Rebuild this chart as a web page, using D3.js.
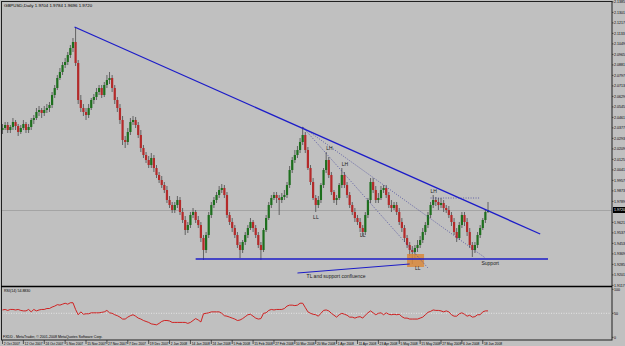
<!DOCTYPE html>
<html>
<head>
<meta charset="utf-8">
<script src="https://cdn.jsdelivr.net/npm/d3@7"></script>
<style>
body { margin: 0; background: #c0c0c0; }
svg { display: block; font-family: "Liberation Sans", "DejaVu Sans", sans-serif; }
</style>
</head>
<body>
<div id="viz"></div>
<script>
//==============================================================================
// Data: GBPUSD daily bars [open, high, low, close], one array per month
var oct07 = [
	[2.0360,2.0408,2.0328,2.0376],[2.0376,2.0424,2.0360,2.0400],[2.0400,2.0424,2.0336,2.0360],[2.0360,2.0400,2.0336,2.0384],
	[2.0384,2.0456,2.0360,2.0424],[2.0424,2.0440,2.0360,2.0392],[2.0392,2.0408,2.0312,2.0344],[2.0344,2.0400,2.0328,2.0376],
	[2.0376,2.0440,2.0360,2.0408],[2.0408,2.0424,2.0336,2.0360],[2.0360,2.0408,2.0336,2.0384],[2.0384,2.0456,2.0360,2.0440],
	[2.0440,2.0480,2.0408,2.0456],[2.0456,2.0536,2.0440,2.0504],[2.0504,2.0552,2.0472,2.0520],[2.0520,2.0536,2.0456,2.0496],
	[2.0496,2.0552,2.0472,2.0520],[2.0520,2.0568,2.0496,2.0536],[2.0536,2.0584,2.0504,2.0560],[2.0560,2.0664,2.0536,2.0640],
	[2.0640,2.0720,2.0616,2.0696],[2.0696,2.0800,2.0680,2.0776]
];
var nov07 = [
	[2.0776,2.0856,2.0760,2.0824],[2.0824,2.0904,2.0800,2.0880],[2.0880,2.0936,2.0856,2.0904],[2.0904,2.0984,2.0880,2.0960],
	[2.0960,2.1040,2.0936,2.1016],[2.1016,2.1096,2.0984,2.1064],[2.1064,2.1184,2.0872,2.0896],[2.0896,2.0920,2.0568,2.0600],
	[2.0600,2.0640,2.0504,2.0536],[2.0536,2.0568,2.0472,2.0504],[2.0504,2.0536,2.0440,2.0480],[2.0480,2.0568,2.0456,2.0536],
	[2.0536,2.0616,2.0520,2.0600],[2.0600,2.0648,2.0568,2.0624],[2.0624,2.0696,2.0600,2.0664],[2.0664,2.0720,2.0640,2.0696],
	[2.0696,2.0720,2.0616,2.0640],[2.0640,2.0744,2.0624,2.0720],[2.0720,2.0800,2.0696,2.0760],[2.0760,2.0824,2.0728,2.0776],
	[2.0776,2.0800,2.0664,2.0696],[2.0696,2.0720,2.0568,2.0600]
];
var dec07 = [
	[2.0600,2.0624,2.0504,2.0536],[2.0536,2.0568,2.0408,2.0440],[2.0440,2.0472,2.0240,2.0280],[2.0280,2.0312,2.0216,2.0264],
	[2.0264,2.0376,2.0240,2.0344],[2.0344,2.0456,2.0320,2.0424],[2.0424,2.0472,2.0400,2.0440],[2.0440,2.0464,2.0376,2.0400],
	[2.0400,2.0424,2.0296,2.0320],[2.0320,2.0360,2.0184,2.0216],[2.0216,2.0240,2.0136,2.0160],[2.0160,2.0184,2.0096,2.0120],
	[2.0120,2.0152,2.0056,2.0080],[2.0080,2.0176,2.0056,2.0136],[2.0136,2.0160,2.0024,2.0056],[2.0056,2.0080,1.9976,2.0000],
	[2.0000,2.0024,1.9936,1.9960],[1.9960,1.9992,1.9896,1.9920],[1.9920,1.9944,1.9856,1.9880],[1.9880,1.9912,1.9776,1.9800]
];
var jan08 = [
	[1.9800,1.9832,1.9736,1.9760],[1.9760,1.9784,1.9696,1.9720],[1.9720,1.9784,1.9696,1.9760],[1.9760,1.9832,1.9736,1.9800],
	[1.9800,1.9824,1.9680,1.9704],[1.9704,1.9736,1.9616,1.9640],[1.9640,1.9672,1.9520,1.9560],[1.9560,1.9624,1.9536,1.9600],
	[1.9600,1.9704,1.9576,1.9680],[1.9680,1.9736,1.9656,1.9704],[1.9704,1.9720,1.9616,1.9640],[1.9640,1.9672,1.9576,1.9600],
	[1.9600,1.9624,1.9464,1.9496],[1.9496,1.9520,1.9320,1.9400],[1.9400,1.9544,1.9376,1.9520],[1.9520,1.9704,1.9496,1.9680],
	[1.9680,1.9784,1.9656,1.9760],[1.9760,1.9824,1.9736,1.9800],[1.9800,1.9864,1.9776,1.9840],[1.9840,1.9912,1.9816,1.9880],
	[1.9880,1.9928,1.9856,1.9896],[1.9896,1.9920,1.9816,1.9840]
];
var feb08 = [
	[1.9840,1.9864,1.9656,1.9680],[1.9680,1.9704,1.9600,1.9624],[1.9624,1.9656,1.9544,1.9576],[1.9576,1.9600,1.9496,1.9520],
	[1.9520,1.9544,1.9416,1.9440],[1.9440,1.9464,1.9336,1.9400],[1.9400,1.9480,1.9376,1.9464],[1.9464,1.9544,1.9440,1.9520],
	[1.9520,1.9600,1.9496,1.9576],[1.9576,1.9656,1.9560,1.9624],[1.9624,1.9640,1.9544,1.9576],[1.9576,1.9600,1.9496,1.9520],
	[1.9520,1.9544,1.9416,1.9440],[1.9440,1.9464,1.9320,1.9400],[1.9400,1.9576,1.9384,1.9560],[1.9560,1.9680,1.9544,1.9656],
	[1.9656,1.9784,1.9640,1.9760],[1.9760,1.9840,1.9736,1.9816],[1.9816,1.9864,1.9800,1.9840],[1.9840,1.9864,1.9776,1.9816],
	[1.9816,1.9840,1.9680,1.9800]
];
var mar08 = [
	[1.9800,1.9856,1.9776,1.9824],[1.9824,1.9880,1.9800,1.9840],[1.9840,1.9944,1.9816,1.9920],[1.9920,2.0072,1.9896,2.0040],
	[2.0040,2.0144,2.0016,2.0120],[2.0120,2.0200,2.0096,2.0160],[2.0160,2.0232,2.0136,2.0200],[2.0200,2.0296,2.0176,2.0264],
	[2.0264,2.0384,2.0240,2.0320],[2.0320,2.0344,2.0176,2.0200],[2.0200,2.0224,2.0040,2.0056],[2.0056,2.0080,1.9920,1.9944],
	[1.9944,1.9976,1.9800,1.9816],[1.9816,1.9840,1.9704,1.9760],[1.9760,1.9832,1.9736,1.9800],[1.9800,1.9936,1.9776,1.9920],
	[1.9920,2.0056,1.9896,2.0040],[2.0040,2.0184,2.0016,2.0120],[2.0120,2.0144,1.9976,2.0000],[2.0000,2.0024,1.9840,1.9864],
	[1.9864,1.9880,1.9776,1.9800]
];
var apr08 = [
	[1.9800,1.9840,1.9760,1.9816],[1.9816,1.9936,1.9800,1.9920],[1.9920,2.0056,1.9896,2.0000],[2.0000,2.0024,1.9896,1.9920],
	[1.9920,1.9944,1.9816,1.9840],[1.9840,1.9864,1.9736,1.9760],[1.9760,1.9784,1.9680,1.9704],[1.9704,1.9736,1.9624,1.9656],
	[1.9656,1.9680,1.9600,1.9624],[1.9624,1.9656,1.9544,1.9576],[1.9576,1.9600,1.9512,1.9544],[1.9544,1.9704,1.9520,1.9680],
	[1.9680,1.9816,1.9656,1.9800],[1.9800,1.9976,1.9776,1.9944],[1.9944,1.9976,1.9856,1.9880],[1.9880,1.9912,1.9776,1.9800],
	[1.9800,1.9856,1.9776,1.9816],[1.9816,1.9912,1.9800,1.9880],[1.9880,1.9920,1.9856,1.9896],[1.9896,1.9920,1.9816,1.9840],
	[1.9840,1.9864,1.9736,1.9760],[1.9760,1.9800,1.9704,1.9736]
];
var may08 = [
	[1.9736,1.9784,1.9720,1.9760],[1.9760,1.9784,1.9680,1.9704],[1.9704,1.9736,1.9600,1.9624],[1.9624,1.9656,1.9544,1.9576],
	[1.9576,1.9600,1.9464,1.9496],[1.9496,1.9520,1.9416,1.9440],[1.9440,1.9464,1.9352,1.9400],[1.9400,1.9432,1.9288,1.9384],
	[1.9384,1.9440,1.9336,1.9416],[1.9416,1.9480,1.9384,1.9440],[1.9440,1.9512,1.9416,1.9480],[1.9480,1.9576,1.9456,1.9544],
	[1.9544,1.9624,1.9520,1.9600],[1.9600,1.9704,1.9576,1.9680],[1.9680,1.9784,1.9656,1.9760],[1.9760,1.9840,1.9736,1.9800],
	[1.9800,1.9824,1.9752,1.9784],[1.9784,1.9816,1.9720,1.9760],[1.9760,1.9816,1.9736,1.9776],[1.9776,1.9800,1.9704,1.9736],
	[1.9736,1.9760,1.9696,1.9720],[1.9720,1.9752,1.9656,1.9680]
];
var jun08 = [
	[1.9680,1.9704,1.9592,1.9624],[1.9624,1.9656,1.9520,1.9544],[1.9544,1.9576,1.9464,1.9496],[1.9496,1.9624,1.9480,1.9600],
	[1.9600,1.9704,1.9576,1.9680],[1.9680,1.9704,1.9592,1.9624],[1.9624,1.9656,1.9512,1.9544],[1.9544,1.9576,1.9416,1.9440],
	[1.9440,1.9464,1.9344,1.9400],[1.9400,1.9464,1.9376,1.9440],[1.9440,1.9544,1.9416,1.9520],[1.9520,1.9600,1.9496,1.9576],
	[1.9576,1.9656,1.9560,1.9640],[1.9640,1.9720,1.9616,1.9704],[1.9704,1.9784,1.9696,1.9720]
];

// RSI(14) readings, one array per month
var rsiOct07 = [57,58,56,58,58,57,58,56,55,55,58,53,58,55,57,58,58,60,60,63,65,68];
var rsiNov07 = [67,69,71,69,72,72,58,47,53,48,49,49,51,51,51,51,52,53,56,51,50,47];
var rsiDec07 = [45,42,38,38,42,45,47,44,40,38,35,33,31,28,27,26,29,33,35,35];
var rsiJan08 = [34,31,31,31,31,31,31,29,31,35,39,36,32,49,50,51,53,53,53,53,50,45];
var rsiFeb08 = [44,42,40,38,35,36,39,43,47,48,44,40,38,39,50,51,56,58,57,58,58];
var rsiMar08 = [58,60,65,67,67,66,67,71,71,62,53,50,48,47,44,50,56,57,55,50,46];
var rsiApr08 = [42,47,50,48,46,42,42,40,42,43,40,46,51,55,51,47,50,51,47,51,48,47];
var rsiMay08 = [48,47,48,43,40,40,38,38,38,38,40,42,47,52,54,57,56,56,55,53,55,53];
var rsiJun08 = [47,44,44,49,51,48,44,46,42,43,47,47,53,55,55];

// Date labels, one every 8 bars
var dateLabels = ["2 Oct 2007","12 Oct 2007","24 Oct 2007","5 Nov 2007","15 Nov 2007","27 Nov 2007",
	"7 Dec 2007","19 Dec 2007","2 Jan 2008","14 Jan 2008","24 Jan 2008","5 Feb 2008","15 Feb 2008",
	"27 Feb 2008","10 Mar 2008","20 Mar 2008","1 Apr 2008","11 Apr 2008","23 Apr 2008","5 May 2008",
	"15 May 2008","27 May 2008","6 Jun 2008","18 Jun 2008"];
var dateStep = 8;

// Price axis labels
var priceTicks = [2.1385,2.1301,2.1217,2.1133,2.1049,2.0965,2.0881,2.0797,2.0713,2.0629,2.0545,2.0461,
	2.0377,2.0293,2.0209,2.0125,2.0041,1.9957,1.9873,1.9789,1.9705,1.9621,1.9537,1.9453,1.9369,
	1.9285,1.9201,1.9117];
var rsiTicks = [100, 50, 0];

// Drawn objects: trendline, support, dotted channel lines
var trendline = [[27.6, 2.1184], [206, 1.9528]];
var supportLine = [[74, 1.9328], [209, 1.9328]];
var dottedLines = [
	[[115, 2.0384], [163, 1.9256]],
	[[115, 2.0384], [185, 1.9336]],
	[[164, 1.9816], [183, 1.9816]]
];
var pointerLine = [[113, 1.9216], [156, 1.9288]];
var confluenceBox = [[155, 1.9368], [161.5, 1.9264]];
var notes = [
	{t: "LH", bar: 124, p: 2.0200},
	{t: "LH", bar: 130, p: 2.0072},
	{t: "LL", bar: 119, p: 1.9648},
	{t: "LL", bar: 137, p: 1.9504},
	{t: "LL", bar: 158, p: 1.9240},
	{t: "LH", bar: 164, p: 1.9856},
	{t: "Support", bar: 183.5, p: 1.9282},
	{t: "TL and support confluence", bar: 116.5, p: 1.9180}
];

var bars = [].concat(oct07, nov07, dec07, jan08, feb08, mar08, apr08, may08, jun08);
var rsi = [].concat(rsiOct07, rsiNov07, rsiDec07, rsiJan08, rsiFeb08, rsiMar08, rsiApr08, rsiMay08, rsiJun08);
var last = bars[bars.length - 1];

//==============================================================================
// Layout
var width = 625, height = 346;
var plotRight = 612;
var mainBottom = 286, rsiTop = 287, rsiBottom = 340;
var bg = "#c0c0c0";
var fontSize = 4.4, axisFont = 3.6;

var svg = d3.select("#viz").append("svg")
	.attr("width", width)
	.attr("height", height);

svg.append("rect").attr("width", width).attr("height", height).attr("fill", bg);

// Scales
var x = d3.scaleLinear().domain([0, 186]).range([2.5, 488]);
var y = d3.scaleLinear().domain([1.912, 2.14]).range([285, 0]);
var yr = d3.scaleLinear().domain([0, 100]).range([337.3, 289.3]);

var fmt = d3.format(".4f");

//==============================================================================
// Main panel
svg.append("clipPath").attr("id", "mainclip")
	.append("rect").attr("x", 1).attr("y", 1).attr("width", plotRight - 1).attr("height", mainBottom - 1);
var plot = svg.append("g").attr("clip-path", "url(#mainclip)");

// current price line
plot.append("line")
	.attr("x1", 1).attr("x2", plotRight)
	.attr("y1", Math.round(y(last[3])) + 0.5).attr("y2", Math.round(y(last[3])) + 0.5)
	.attr("stroke", "#a4a4a4").attr("stroke-width", 1);

// candles
var candles = plot.append("g").selectAll("g")
	.data(bars)
	.enter().append("g");
candles.append("line")
	.attr("x1", function(d, i) { return x(i); })
	.attr("x2", function(d, i) { return x(i); })
	.attr("y1", function(d) { return y(d[1]); })
	.attr("y2", function(d) { return y(d[2]); })
	.attr("stroke", "#4a4a4a").attr("stroke-width", 0.8);
candles.append("rect")
	.attr("x", function(d, i) { return x(i) - 1.1; })
	.attr("width", 2.2)
	.attr("y", function(d) { return y(Math.max(d[0], d[3])); })
	.attr("height", function(d) { return Math.max(0.8, Math.abs(y(d[0]) - y(d[3]))); })
	.attr("fill", function(d) { return d[3] >= d[0] ? "#1d6f1d" : "#b42a2a"; });

// confluence box
plot.append("rect")
	.attr("x", x(confluenceBox[0][0]))
	.attr("y", y(confluenceBox[0][1]))
	.attr("width", x(confluenceBox[1][0]) - x(confluenceBox[0][0]))
	.attr("height", y(confluenceBox[1][1]) - y(confluenceBox[0][1]))
	.attr("fill", "#d9883a").attr("fill-opacity", 0.85);

// dotted lines
plot.selectAll(".dotline")
	.data(dottedLines)
	.enter().append("line")
	.attr("class", "dotline")
	.attr("x1", function(d) { return x(d[0][0]); })
	.attr("y1", function(d) { return y(d[0][1]); })
	.attr("x2", function(d) { return x(d[1][0]); })
	.attr("y2", function(d) { return y(d[1][1]); })
	.attr("stroke", "#3a3a9a").attr("stroke-width", 0.7)
	.attr("stroke-dasharray", "1,1.5");

// blue lines
[trendline, supportLine, pointerLine].forEach(function(l, k) {
	plot.append("line")
		.attr("x1", x(l[0][0])).attr("y1", y(l[0][1]))
		.attr("x2", x(l[1][0])).attr("y2", y(l[1][1]))
		.attr("stroke", "#1c1cc8")
		.attr("stroke-width", k == 2 ? 1 : 1.3);
});

// notes
plot.selectAll(".note")
	.data(notes)
	.enter().append("text")
	.attr("class", "note")
	.attr("x", function(d) { return x(d.bar); })
	.attr("y", function(d) { return y(d.p); })
	.attr("font-size", 5)
	.attr("fill", "#202020")
	.text(function(d) { return d.t; });

// header
svg.append("text")
	.attr("x", 4).attr("y", 7)
	.attr("font-size", fontSize)
	.text("GBPUSD,Daily  " + last.map(fmt).join(" "));

//==============================================================================
// RSI panel
var rsiLine = d3.line()
	.x(function(d, i) { return x(i); })
	.y(function(d) { return yr(d); });

svg.append("line")
	.attr("x1", 1).attr("x2", plotRight)
	.attr("y1", yr(50)).attr("y2", yr(50))
	.attr("stroke", "#ececec").attr("stroke-width", 0.8)
	.attr("stroke-dasharray", "1,1.5");

svg.append("path")
	.datum(rsi)
	.attr("d", rsiLine)
	.attr("fill", "none")
	.attr("stroke", "#d01010")
	.attr("stroke-width", 0.9);

svg.append("text")
	.attr("x", 4).attr("y", 292)
	.attr("font-size", axisFont)
	.text("RSI(14) " + "54.8830");

svg.append("text")
	.attr("x", 3).attr("y", 338)
	.attr("font-size", axisFont)
	.text("FXDD - MetaTrader, \u00a9 2001-2008 MetaQuotes Software Corp.");

//==============================================================================
// Frame and separator
svg.append("rect")
	.attr("x", 1.5).attr("y", 1.5)
	.attr("width", plotRight - 1.5).attr("height", rsiBottom - 1.5)
	.attr("fill", "none").attr("stroke", "#202020").attr("stroke-width", 1);
svg.append("line")
	.attr("x1", 1).attr("x2", plotRight)
	.attr("y1", mainBottom + 0.5).attr("y2", mainBottom + 0.5)
	.attr("stroke", "#000").attr("stroke-width", 1.5);

//==============================================================================
// Price axis
var lastY = y(last[3]);
var pticks = svg.append("g").selectAll("g")
	.data(priceTicks.filter(function(p) { return Math.abs(y(p) - lastY) > 5; }))
	.enter().append("g");
pticks.append("line")
	.attr("x1", plotRight).attr("x2", plotRight + 1.5)
	.attr("y1", function(d) { return y(d); }).attr("y2", function(d) { return y(d); })
	.attr("stroke", "#202020").attr("stroke-width", 0.7);
pticks.append("text")
	.attr("x", plotRight + 2).attr("y", function(d) { return y(d) + 1.3; })
	.attr("font-size", axisFont)
	.text(function(d) { return fmt(d); });

// current price box
svg.append("rect")
	.attr("x", plotRight + 1).attr("y", lastY - 3)
	.attr("width", 12).attr("height", 6)
	.attr("fill", "#000");
svg.append("text")
	.attr("x", plotRight + 2).attr("y", lastY + 1.3)
	.attr("font-size", axisFont).attr("fill", "#fff")
	.text(fmt(last[3]));

// RSI axis
var rticks = svg.append("g").selectAll("g")
	.data(rsiTicks).enter().append("g");
rticks.append("line")
	.attr("x1", plotRight).attr("x2", plotRight + 1.5)
	.attr("y1", function(d) { return yr(d); }).attr("y2", function(d) { return yr(d); })
	.attr("stroke", "#202020").attr("stroke-width", 0.7);
rticks.append("text")
	.attr("x", plotRight + 2).attr("y", function(d) { return yr(d) + 1.3; })
	.attr("font-size", axisFont)
	.text(function(d) { return d; });

//==============================================================================
// Date axis
var dticks = svg.append("g").selectAll("g")
	.data(dateLabels).enter().append("g");
dticks.append("line")
	.attr("x1", function(d, i) { return x(i * dateStep); })
	.attr("x2", function(d, i) { return x(i * dateStep); })
	.attr("y1", rsiBottom).attr("y2", rsiBottom + 4)
	.attr("stroke", "#202020").attr("stroke-width", 0.7);
dticks.append("text")
	.attr("x", function(d, i) { return x(i * dateStep) + 1.2; })
	.attr("y", 344.5)
	.attr("font-size", 3.3)
	.text(function(d) { return d; });
</script>
</body>
</html>
